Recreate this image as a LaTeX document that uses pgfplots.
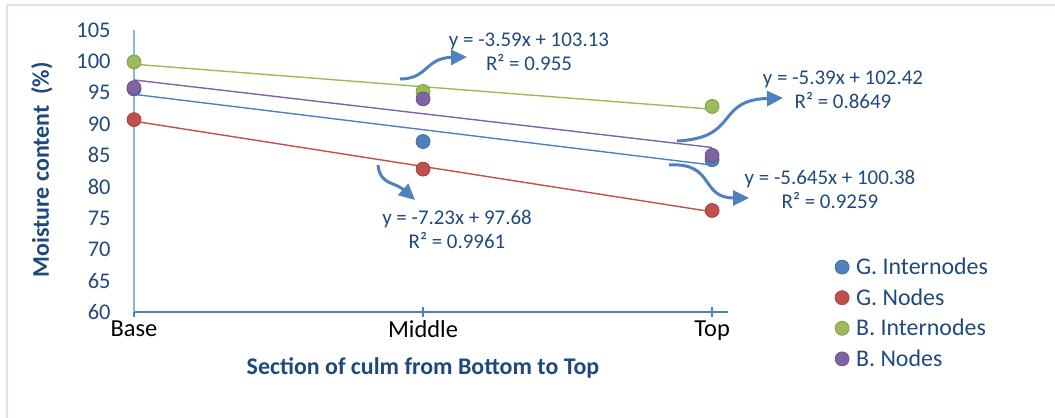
\documentclass[border=0pt]{standalone}
\usepackage{fontspec}
\setmainfont{Carlito}
\usepackage{pgfplots}
\pgfplotsset{compat=1.18}
\usetikzlibrary{arrows.meta}
\definecolor{cblue}{HTML}{4F81BD}
\definecolor{cred}{HTML}{C0504D}
\definecolor{cgreen}{HTML}{9BBB59}
\definecolor{cpurple}{HTML}{8064A2}
\definecolor{ctext}{HTML}{1F497D}
\definecolor{cyaxis}{HTML}{8EB4E3}
\definecolor{cborder}{HTML}{D6E3F2}
\begin{document}
\begin{tikzpicture}
\useasboundingbox (0,0) rectangle (1055bp,418bp);
\draw[cborder, line width=1.5bp] (7bp,0) -- (7bp,413bp) -- (1055bp,413bp);
\begin{axis}[
  at={(134bp,106bp)}, anchor=south west,
  scale only axis, width=594bp, height=282bp,
  xmin=1, xmax=3.055, ymin=60, ymax=105,
  axis x line=bottom, axis y line=left,
  axis line style={-},
  x axis line style={cblue, line width=1.6bp},
  y axis line style={cyaxis, line width=1.3bp},
  xtick={1,2,3}, xticklabels={Base,Middle,Top},
  ytick={60,65,...,105},
  tick align=center, major tick length=10bp,
  xtick style={cblue, line width=1.3bp},
  ytick style={draw=none},
  /pgf/number format/assume math mode=true,
  xticklabel style={font=\fontsize{24.5}{28}\selectfont, text=black, yshift=0bp},
  yticklabel style={font=\fontsize{22.5}{26}\selectfont, text=ctext, xshift=-15bp},
  xlabel={Section of culm from Bottom to Top},
  ylabel={Moisture content\ \ (\%)},
  xlabel style={at={(axis description cs:0.4865,-0.199)}, anchor=center, font=\fontsize{24}{28}\selectfont\bfseries, text=ctext},
  ylabel style={at={(axis description cs:-0.155,0.504)}, anchor=center, font=\fontsize{24}{28}\selectfont\bfseries, text=ctext},
  legend style={draw=none, fill=none, at={(1.18,0.199)}, anchor=north west,
    font=\fontsize{24}{28}\selectfont, text=ctext, row sep=8.5bp, inner sep=0pt,
    /tikz/every odd column/.append style={column sep=5bp}},
  legend cell align=left,
  legend image code/.code={\draw[#1] plot coordinates {(0bp,0bp)};},
]
% trendlines (from the fitted equations)
\addplot[cblue, line width=1.4bp, forget plot] coordinates {(1,94.735)(3,83.445)};
\addplot[cred, line width=1.4bp, forget plot] coordinates {(1,90.45)(3,75.99)};
\addplot[cgreen, line width=1.4bp, forget plot] coordinates {(1,99.54)(3,92.36)};
\addplot[cpurple, line width=1.4bp, forget plot] coordinates {(1,97.03)(3,86.25)};
% data
\addplot[only marks, mark=*, mark size=7bp, mark options={fill=cblue, draw=cblue!80!black, line width=0.7bp}] coordinates {(1,95.6)(2,87.2)(3,84.3)};
\addplot[only marks, mark=*, mark size=7bp, mark options={fill=cred, draw=cred!80!black, line width=0.7bp}] coordinates {(1,90.7)(2,82.8)(3,76.2)};
\addplot[only marks, mark=*, mark size=7bp, mark options={fill=cgreen, draw=cgreen!80!black, line width=0.7bp}] coordinates {(1,99.9)(2,95.2)(3,92.8)};
\addplot[only marks, mark=*, mark size=7bp, mark options={fill=cpurple, draw=cpurple!80!black, line width=0.7bp}] coordinates {(1,95.8)(2,94.0)(3,85.0)};
\legend{G. Internodes, G. Nodes, B. Internodes, B. Nodes}
\end{axis}
\begin{scope}[x=1bp, y=-1bp, shift={(0bp,418bp)}]
\draw[cblue, line width=3bp, -{Triangle[length=16bp,width=15bp]}] (400,79) .. controls (428,79) and (425,58) .. (467,57);
\draw[cblue, line width=3bp, -{Triangle[length=16bp,width=15bp]}] (677,141) .. controls (740,138) and (715,100) .. (783,98);
\draw[cblue, line width=3bp, -{Triangle[length=16bp,width=15bp]}] (669,165) .. controls (715,162) and (700,198) .. (749,198);
\draw[cblue, line width=3bp, -{Triangle[length=16bp,width=15bp]}] (378,165) .. controls (380,185) and (395,182) .. (415,200);
\node[ctext, font=\fontsize{21}{24}\selectfont, align=center] at (529,51.5) {y = -3.59x + 103.13\\R² = 0.955};
\node[ctext, font=\fontsize{21}{24}\selectfont, align=center] at (843,89.5) {y = -5.39x + 102.42\\R² = 0.8649};
\node[ctext, font=\fontsize{21}{24}\selectfont, align=center] at (830,189.5) {y = -5.645x + 100.38\\R² = 0.9259};
\node[ctext, font=\fontsize{21}{24}\selectfont, align=center] at (457,229) {y = -7.23x + 97.68\\R² = 0.9961};
\end{scope}
\end{tikzpicture}
\end{document}
